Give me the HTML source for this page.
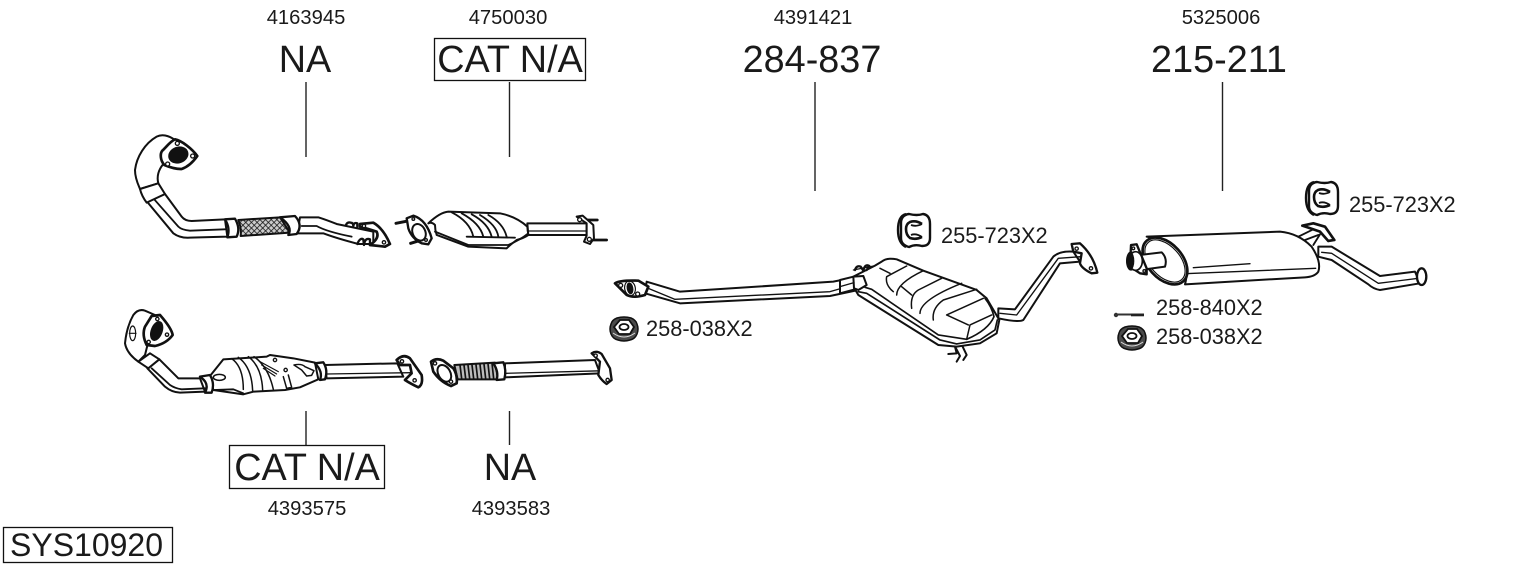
<!DOCTYPE html>
<html><head><meta charset="utf-8"><style>
html,body{margin:0;padding:0;background:#fff;width:1530px;height:566px;overflow:hidden}
svg{display:block}
text{font-family:"Liberation Sans",sans-serif;fill:#1a1a1a}
.p{fill:#fff;stroke:#111;stroke-width:6;stroke-linejoin:round;stroke-linecap:round}
.l{fill:none;stroke:#111;stroke-width:5.5;stroke-linejoin:round;stroke-linecap:round}
.k{fill:#111;stroke:#111;stroke-width:2}
.b{fill:#fff;stroke:#111;stroke-width:4}
.id{font-size:20.2px;text-anchor:middle}
.big{font-size:37.8px;text-anchor:middle}
.lab{font-size:21.8px}
</style></head><body>
<svg width="1530" height="566" viewBox="0 0 1530 566" xmlns="http://www.w3.org/2000/svg">
<defs>
<pattern id="mesh" width="12" height="12" patternUnits="userSpaceOnUse" patternTransform="rotate(45)">
<rect width="12" height="12" fill="#ccc"/><path d="M0 0H12M0 0V12" stroke="#111" stroke-width="4.5"/></pattern>
<g id="clamp">
<path d="M-9 -16 Q-17 -14 -17 0 Q-17 13 -9 17" fill="#fff" stroke="#111" stroke-width="2.4"/>
<path d="M-6 -16 Q2 -14 8 -16 Q15 -15 15 -6 L15 8 Q15 16 7 16 Q0 14 -6 17 Q-14 15 -14 8 L-14 -7 Q-14 -15 -6 -16Z" fill="#fff" stroke="#111" stroke-width="2.4"/>
<path d="M7 -6 Q1 -10 -5 -8 Q-9 -6 -9 -1 Q-9 5 -5 8 Q1 10 7 7" fill="none" stroke="#111" stroke-width="2.6"/>
<path d="M-4 -5 Q1 -3 7 -6 M-4 5 Q1 3 7 7" fill="none" stroke="#111" stroke-width="1.8"/>
</g>
<g id="nut">
<path d="M-7 -11 Q0 -13 7 -11 Q12 -9 13 -5 Q15 0 13 5 Q11 10 6 11 Q0 13 -6 11 Q-11 10 -13 5 Q-15 0 -13 -5 Q-12 -9 -7 -11Z" fill="#4a4a4a" stroke="#111" stroke-width="1.5"/>
<path d="M-4 -9 L5 -9 L10 -2 L6 5 L-5 5 L-10 -2Z" fill="#fff" stroke="#111" stroke-width="1.8"/>
<ellipse cx="0" cy="-2" rx="4.500" ry="3" fill="#fff" stroke="#111" stroke-width="1.8"/>
<path d="M-11 4 Q0 12 11 4" fill="none" stroke="#ddd" stroke-width="1"/>
</g>
</defs>
<rect width="1530" height="566" fill="#fff"/>

<g stroke="#222" stroke-width="1.4">
<path d="M306 82V157M509.500 82V157M815 82V191M1222.500 82V191M306 411V446M509.500 411V445"/>
</g>
<g fill="#fff" stroke="#111" stroke-width="1.3">
<rect x="434.500" y="38.500" width="151" height="42"/>
<rect x="229.500" y="445.500" width="155" height="43"/>
<rect x="3.500" y="527.500" width="169" height="35"/>
</g>

<!-- Part 1 -->
<g transform="translate(110,120) scale(.3333)">
<path class="p" d="M195 60 C175 45 155 42 140 50 C105 70 80 110 75 150 C75 175 85 195 90 207 L145 190 C140 170 145 150 160 132Z"/>
<path class="p" style="stroke-width:8" d="M195 58 C215 62 245 85 262 108 C250 125 235 140 215 147 C195 148 175 140 163 135 C150 120 150 100 157 92 C170 80 180 65 195 58Z"/>
<ellipse class="k" cx="205" cy="105" rx="30" ry="24" fill="#222" transform="rotate(-20 205 105)"/>
<circle class="b" cx="202" cy="70" r="6"/><circle class="b" cx="248" cy="108" r="6"/><circle class="b" cx="173" cy="132" r="6"/>
<path class="p" d="M112 246 L190 340 Q210 355 240 353 L352 350 L345 298 L245 303 Q225 303 215 290 L165 222Z"/>
<path class="l" d="M130 235 L205 320 Q215 330 240 332 L345 328"/>
<path class="p" d="M90 207 L145 190 L165 222 L110 248 Q95 228 90 207Z"/>
<path class="p" d="M385 300 L510 292 L540 338 L392 348 Q395 325 385 300Z" style="fill:url(#mesh)"/>
<path class="p" style="stroke-width:7" d="M345 298 L375 296 Q392 325 380 350 L352 352 Q362 325 345 298Z"/>
<path class="p" d="M570 292 L625 292 Q650 300 680 312 L790 335 L790 372 L745 372 Q680 355 640 340 L562 340Z"/>
<path class="l" d="M575 318 L620 318 Q650 335 725 350"/>
<path class="p" style="stroke-width:7" d="M510 292 L555 288 Q580 315 560 342 L535 345 Q550 320 510 292Z"/>
<path class="p" style="stroke-width:8" d="M750 312 L790 308 Q820 325 840 372 L825 380 L780 375 Q810 355 800 335 Q770 325 750 320Z"/>
<circle class="b" cx="762" cy="318" r="5"/><circle class="b" cx="822" cy="367" r="5"/>
<path class="l" style="stroke-width:7" d="M708 315 Q712 305 722 308 Q730 308 730 318 Q732 306 742 310 V320"/>
<path class="l" style="stroke-width:7" d="M742 372 Q750 352 760 358 L762 375 Q765 352 780 358 V375"/>
</g>

<!-- Part 2 -->
<g transform="translate(390,195) scale(.3333)">
<path class="l" style="stroke-width:9" d="M18 85 L58 77M62 145 L105 132"/>
<path class="p" d="M115 85 Q150 52 175 50 L330 55 Q380 65 412 95 L415 120 Q400 130 380 135 Q360 150 350 160 L235 155 L140 120 Q135 105 135 90 Q125 80 115 85Z"/>
<path class="l" d="M135 110 L235 150 L355 150 Q390 135 415 115M230 125 L375 128"/>
<path class="l" d="M185 52 Q240 80 250 125M215 55 Q270 85 280 125M245 58 Q295 85 305 125M270 60 Q320 90 325 125M295 60 Q340 85 350 125"/>
<path class="p" d="M412 85 L590 85 L590 120 L415 120Z"/>
<path class="l" style="stroke-width:3.500" d="M412 108 L590 108"/>
<path class="p" style="stroke-width:7" d="M50 70 L70 62 Q110 75 125 130 L115 148 L95 145 Q65 130 55 100Z"/>
<ellipse class="p" cx="87" cy="112" rx="19" ry="26" transform="rotate(-25 87 112)"/>
<path class="l" style="stroke-width:8" d="M590 75 L622 75M610 135 L650 135"/>
<path class="p" d="M560 65 L578 62 L610 90 L612 130 L600 147 L582 140 L590 122 V85Z"/>
<circle class="b" cx="569" cy="74" r="6"/><circle class="b" cx="598" cy="133" r="6"/>
<circle class="b" cx="70" cy="72" r="4"/><circle class="b" cx="108" cy="135" r="4"/>
</g>

<!-- Part 3 -->
<g transform="translate(110,300) scale(.3333)">
<path class="p" d="M70 45 Q85 25 105 32 L135 45 L105 165 L85 185 Q50 160 45 130 Q50 80 70 45Z"/>
<ellipse class="l" style="stroke-width:3.500" cx="68" cy="100" rx="9" ry="22"/>
<path class="l" style="stroke-width:3.500" d="M58 100H78"/>
<path class="p" d="M112 205 L165 260 Q185 277 210 278 L285 275 L270 235 L205 235 L148 178Z"/>
<path class="l" d="M125 205 L180 255 Q195 265 215 268 L285 265"/>
<path class="p" d="M85 185 L120 160 L148 178 L115 205Z"/>
<path class="p" style="stroke-width:8" d="M125 48 L150 45 Q185 85 188 105 Q170 130 135 138 L110 135 Q95 105 105 80Z"/>
<ellipse class="k" cx="140" cy="93" rx="17" ry="30" transform="rotate(20 140 93)"/>
<circle class="b" cx="142" cy="57" r="5"/><circle class="b" cx="171" cy="104" r="5"/><circle class="b" cx="116" cy="126" r="5"/>
<path class="p" d="M300 228 L340 178 L470 170 L480 165 L550 175 L615 188 L625 238 L570 262 L525 270 L430 275 L400 283 L310 270Z"/>
<path class="l" style="stroke-width:4.500" d="M365 176 Q400 200 400 268M385 172 Q425 200 428 272M415 170 Q455 200 458 270M432 170 Q475 200 490 268M520 230 L530 265 L545 262 L535 225"/>
<path class="l" style="stroke-width:3.500" d="M450 185 L505 215M455 195 L500 222M460 205 L495 228"/>
<ellipse class="p" style="stroke-width:4.500" cx="328" cy="232" rx="18" ry="9"/>
<circle class="b" cx="495" cy="180" r="5"/><circle class="b" cx="527" cy="210" r="5"/>
<path class="l" style="stroke-width:4.500" d="M552 195 Q575 190 585 200 L612 212 L605 226 L590 228 L575 210 Z"/>
<path class="l" d="M310 270 L370 268 L400 280"/>
<path class="p" style="stroke-width:7" d="M270 230 L300 225 Q315 250 305 278 L285 278 Q300 250 270 230Z"/>
<path class="p" d="M645 195 L862 190 L880 230 L650 235Z"/>
<path class="l" style="stroke-width:4" d="M650 222 L905 218"/>
<path class="p" style="stroke-width:7" d="M615 190 L640 187 Q655 210 645 238 L630 240 Q640 215 615 190Z"/>
<path class="p" style="stroke-width:8" d="M860 180 Q880 160 900 175 L935 225 Q940 255 925 262 Q900 250 885 240 L905 220 L900 195 L870 195Z"/>
<circle class="b" cx="876" cy="184" r="5"/><circle class="b" cx="914" cy="241" r="5"/>
</g>

<!-- Part 4 -->
<g transform="translate(425,340) scale(.3333)">
<path class="p" d="M240 70 L510 60 L525 100 L240 112Z"/>
<path class="l" style="stroke-width:4" d="M240 100 L540 92"/>
<path class="p" style="stroke-width:7" d="M500 40 Q515 30 530 42 L555 85 L560 120 L545 132 Q530 122 520 105 L525 65Z"/>
<circle class="b" cx="512" cy="47" r="5"/><circle class="b" cx="548" cy="120" r="5"/>
<path class="p" d="M88 75 L210 68 L220 118 L98 118Z" style="fill:#bbb"/>
<path class="l" style="stroke-width:5" d="M105 75 L110 116M117 75 L122 116M129 75 L134 116M141 75 L146 116M153 74 L158 116M165 73 L170 116M177 72 L182 116M189 71 L194 116M201 70 L206 116"/>
<path class="p" style="stroke-width:7" d="M205 70 L235 67 Q245 90 238 118 L215 120 Q222 95 205 70Z"/>
<path class="p" style="stroke-width:8" d="M18 65 Q35 52 55 62 L85 85 Q98 105 95 130 L78 138 Q45 125 25 95Z"/>
<ellipse class="p" cx="58" cy="100" rx="18" ry="27" transform="rotate(-30 58 100)"/>
<circle class="b" cx="30" cy="70" r="5"/><circle class="b" cx="78" cy="125" r="5"/>
</g>

<!-- Part 5 -->
<g transform="translate(600,240) scale(.3333)">
<path class="p" d="M140 125 L240 155 L700 125 L765 112 L775 150 L690 168 L240 190 L135 160Z"/>
<path class="l" style="stroke-width:4" d="M145 145 L225 178 L690 155 L760 135"/>
<path class="p" style="stroke-width:8" d="M45 130 Q60 120 115 122 L145 140 L135 165 Q100 175 80 165Z"/>
<circle class="b" cx="62" cy="136" r="6"/><circle class="b" cx="113" cy="162" r="6"/>
<ellipse class="l" cx="90" cy="145" rx="16" ry="22" style="stroke-width:3.500" transform="rotate(-10 90 145)"/>
<ellipse class="k" cx="90" cy="145" rx="9" ry="17" transform="rotate(-10 90 145)"/>
</g>

<!-- Part 6 -->
<g transform="translate(840,200) scale(.3333)">
<path class="p" d="M475 325 L525 328 L640 170 Q660 152 700 155 L720 185 L660 190 L550 360 Q535 368 475 355Z"/>
<path class="l" style="stroke-width:4" d="M480 340 L530 345 L655 175 L722 170"/>
<path class="p" style="stroke-width:7" d="M695 132 L720 130 Q760 165 772 218 L755 220 Q725 205 720 190 L725 160 L700 155Z"/>
<circle class="b" cx="710" cy="146" r="5"/><circle class="b" cx="753" cy="205" r="5"/>
<path class="l" style="stroke-width:6" d="M325 462 L350 460 L345 440 M350 485 L360 468 L348 445 M370 480 L380 465 L368 440"/>
<path class="p" d="M0 240 L40 230 L105 197 L125 185 Q140 172 170 178 L250 212 L410 270 L440 295 L478 360 L470 400 L420 430 L350 440 L295 435 L55 285 L45 268 L0 280Z"/>
<path class="p" style="stroke-width:6" d="M40 230 L70 228 L80 255 L55 270 L42 265Z"/>
<path class="l" style="stroke-width:4" d="M0 260 L42 248"/>
<path class="l" style="stroke-width:5" d="M55 275 L80 280 L300 420 L350 432 L420 420 L465 390 L472 360"/>
<path class="l" style="stroke-width:5" d="M75 262 L95 268 L295 405 L380 418 Q445 390 462 350 Q455 320 435 295"/>
<path class="l" style="stroke-width:4.500" d="M160 275 Q135 255 140 230 L200 198 M170 285 Q170 250 250 212 M215 325 Q210 285 235 270 L305 235 M240 340 Q240 300 365 250 M280 360 Q275 325 310 300 L410 268 M320 345 L430 295 M380 418 L390 375 L455 345 M320 345 L385 375 M150 220 L120 205 M185 260 L215 285"/>
<path class="l" style="stroke-width:7" d="M45 210 Q50 195 62 200 L70 212 Q75 190 88 198 L80 210"/>
<path class="l" style="stroke-width:3.500" d="M40 210 L105 197"/>
</g>

<!-- Part 7 -->
<g transform="translate(1105,175) scale(.3333)">
<path class="l" style="stroke-width:8" d="M592 152 L625 145 L660 155 L688 195 L670 198 L645 170 L610 158Z"/>
<path class="l" d="M580 185 L625 163M600 195 L640 180M625 210 L645 178"/>
<path class="p" d="M640 215 L680 215 L825 303 L930 290 L945 325 L825 345 Q805 342 790 328 L680 255 L640 245Z"/>
<path class="l" style="stroke-width:4" d="M650 232 L680 235 L820 325 L940 310"/>
<ellipse class="p" cx="950" cy="305" rx="14" ry="25" style="stroke-width:7"/>
<path class="p" d="M125 185 L525 170 Q580 175 620 215 Q650 260 640 290 Q630 305 600 307 L240 328 Q250 290 240 260 Q200 195 125 185Z"/>
<path class="l" style="stroke-width:4" d="M240 296 L632 280M265 278 L435 266"/>
<ellipse class="p" style="stroke-width:8" cx="180" cy="258" rx="52" ry="82" transform="rotate(-42 180 258)"/>
<ellipse class="l" style="stroke-width:3.500" cx="180" cy="258" rx="45" ry="75" transform="rotate(-42 180 258)"/>
<path class="p" d="M105 240 L170 232 Q188 250 180 275 L105 285Z"/>
<path class="p" d="M78 210 L95 208 L125 280 L125 298 L105 295 L75 275Z" style="stroke-width:7"/>
<ellipse class="k" cx="78" cy="258" rx="14" ry="28"/>
<ellipse class="p" cx="92" cy="258" rx="20" ry="28" style="stroke-width:5"/>
<ellipse class="k" cx="78" cy="258" rx="9" ry="24"/>
<circle class="b" cx="85" cy="220" r="4"/><circle class="b" cx="118" cy="288" r="4"/>
</g>

<use href="#clamp" x="915" y="230"/>
<use href="#clamp" x="1323" y="198"/>
<use href="#nut" x="624" y="329"/>
<use href="#nut" x="1132" y="338"/>
<path d="M1115 314.500H1144" stroke="#333" stroke-width="2"/><circle cx="1116" cy="315" r="2.200" fill="#333"/><path d="M1131 315H1144" stroke="#222" stroke-width="2.600"/>

<text class="id" x="306" y="24">4163945</text>
<text class="id" x="508" y="24">4750030</text>
<text class="id" x="813" y="24">4391421</text>
<text class="id" x="1221" y="24">5325006</text>
<text class="big" x="305" y="72">NA</text>
<text class="big" x="510" y="72">CAT N/A</text>
<text class="big" x="812" y="72">284-837</text>
<text class="big" x="1219" y="72">215-211</text>
<text class="big" x="307" y="480">CAT N/A</text>
<text class="big" x="510" y="480">NA</text>
<text class="id" x="307" y="515">4393575</text>
<text class="id" x="511" y="515">4393583</text>
<text x="10" y="556" style="font-size:32px">SYS10920</text>
<text class="lab" x="941" y="243">255-723X2</text>
<text class="lab" x="1349" y="212">255-723X2</text>
<text class="lab" x="646" y="336">258-038X2</text>
<text class="lab" x="1156" y="315">258-840X2</text>
<text class="lab" x="1156" y="344">258-038X2</text>
</svg>
</body></html>
